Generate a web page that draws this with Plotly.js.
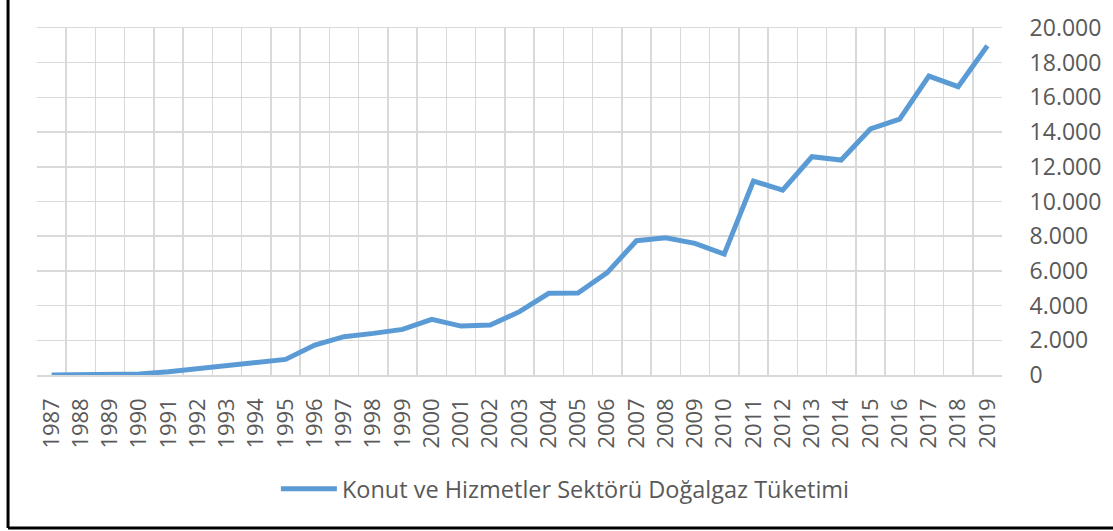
<!DOCTYPE html>
<html>
<head>
<meta charset="utf-8">
<script src="https://cdn.plot.ly/plotly-3.0.1.min.js"></script>
<style>
html,body{margin:0;padding:0;background:#fff;}
#chart{width:1113px;height:531px;}
</style>
</head>
<body>
<div id="chart"></div>
<script>
const years = ["1987","1988","1989","1990","1991","1992","1993","1994","1995","1996","1997","1998","1999","2000","2001","2002","2003","2004","2005","2006","2007","2008","2009","2010","2011","2012","2013","2014","2015","2016","2017","2018","2019"];
const consumption = [0,0,10,60,190,380,540,730,900,1730,2210,2400,2630,3210,2820,2880,3650,4710,4730,5900,7740,7910,7590,6970,11180,10660,12580,12390,14180,14750,17230,16620,18980];
const seriesName = "Konut ve Hizmetler Sektörü Doğalgaz Tüketimi";
const yTicks = [0,2000,4000,6000,8000,10000,12000,14000,16000,18000,20000];

const textColor = "#595959";
const gridColor = "#D9D9D9";
const fontFam = "'Open Sans', sans-serif";

const trace = {
  x: years,
  y: consumption,
  type: "scatter",
  mode: "lines",
  name: seriesName,
  line: {color: "#5B9BD5", width: 5, shape: "linear"},
  showlegend: true
};

const layout = {
  width: 1113,
  height: 531,
  margin: {l: 37, r: 111, t: 28, b: 156, pad: 0},
  paper_bgcolor: "#ffffff",
  plot_bgcolor: "#ffffff",
  separators: ",.",
  font: {family: fontFam, color: textColor, size: 22},
  xaxis: {
    type: "category",
    tickson: "boundaries",
    showgrid: true,
    gridcolor: gridColor,
    gridwidth: 1.5,
    showline: true,
    linecolor: gridColor,
    linewidth: 1.5,
    mirror: true,
    ticks: "",
    ticklabelstandoff: 13,
    tickangle: -90,
    tickfont: {family: fontFam, size: 22, color: textColor},
    range: [-0.5, 32.5],
    fixedrange: true
  },
  yaxis: {
    side: "right",
    range: [0, 20000],
    tickvals: yTicks,
    tickformat: ",d",
    showgrid: true,
    gridcolor: gridColor,
    gridwidth: 1.5,
    zeroline: false,
    showline: false,
    ticks: "outside",
    ticklen: 22,
    tickcolor: "rgba(0,0,0,0)",
    tickfont: {family: fontFam, size: 23, color: textColor},
    fixedrange: true
  },
  legend: {
    orientation: "h",
    xref: "container",
    yref: "container",
    x: 0.508,
    xanchor: "center",
    y: 0.079,
    yanchor: "middle",
    itemwidth: 56,
    font: {family: fontFam, size: 23.5, color: textColor},
    bgcolor: "rgba(0,0,0,0)"
  },
  shapes: [
    {type: "line", xref: "paper", yref: "paper", x0: -0.0300, x1: -0.0300, y0: -0.4409, y1: 1.2, line: {color: "#000", width: 3}},
    {type: "line", xref: "paper", yref: "paper", x0: -0.0300, x1: 1.2, y0: -0.4409, y1: -0.4409, line: {color: "#000", width: 3}}
  ]
};

Plotly.newPlot("chart", [trace], layout, {displayModeBar: false, staticPlot: true});
</script>
</body>
</html>
